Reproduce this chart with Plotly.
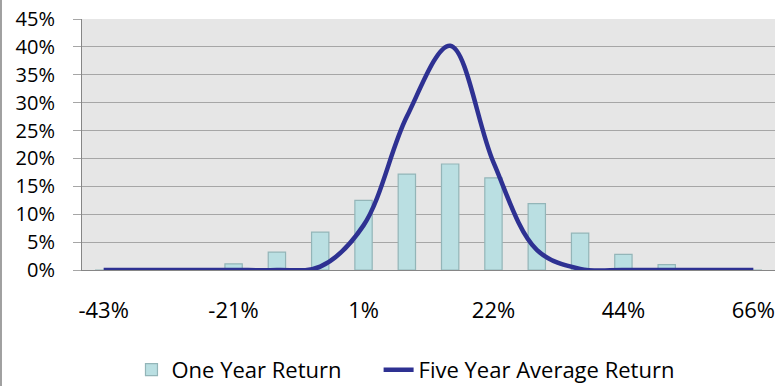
import plotly.graph_objects as go

# Return buckets (category axis) and the frequency of each bucket, in percent
return_buckets = ["-43%", "-36%", "-28%", "-21%", "-14%", "-7%", "1%", "8%",
                  "15%", "22%", "30%", "37%", "44%", "51%", "59%", "66%"]
one_year_return = [0, 0, 0, 1.1, 3.2, 6.8, 12.5, 17.2,
                   19.0, 16.5, 11.9, 6.6, 2.8, 0.95, 0, 0]
five_year_avg_return = [0, 0, 0, 0, 0, 0.6, 8.0, 27.5,
                        40.2, 19.3, 3.6, 0.2, 0, 0, 0, 0]
# Only every third bucket gets a label
labelled_buckets = return_buckets[::3]

FONT = "Open Sans, sans-serif"

fig = go.Figure()
fig.add_trace(go.Bar(
    x=return_buckets, y=one_year_return, name="One Year Return",
    marker=dict(color="#BADFE2", line=dict(color="#93B5B8", width=1.2)),
    legend="legend",
))
fig.add_trace(go.Scatter(
    x=return_buckets, y=five_year_avg_return, name="Five Year Average Return",
    mode="lines", line=dict(color="#2E3192", width=4.5, shape="spline", smoothing=1.0),
    legend="legend2",
))

legend_style = dict(orientation="h", xanchor="left", y=-0.398, yanchor="middle",
                    font=dict(family=FONT, size=22, color="black"),
                    bgcolor="rgba(0,0,0,0)")

fig.update_layout(
    width=777, height=386,
    margin=dict(l=82, r=2, t=19, b=116, autoexpand=False),
    paper_bgcolor="white", plot_bgcolor="#E6E6E6",
    font=dict(family=FONT, size=22, color="black"),
    bargap=0.6,
    showlegend=True,
    legend=dict(x=0.0714, **legend_style),
    legend2=dict(x=0.428, **legend_style),
    xaxis=dict(type="category", tickmode="array", tickvals=labelled_buckets,
               ticktext=labelled_buckets, showgrid=False, ticks="",
               showline=True, linecolor="#868686", linewidth=1,
               ticklabelstandoff=21, zeroline=False,
               tickfont=dict(size=22)),
    yaxis=dict(range=[0, 45], dtick=5, ticksuffix="%", showgrid=True,
               gridcolor="#A6A6A6", gridwidth=1.3, ticks="outside", ticklen=8,
               tickcolor="#A6A6A6", showline=True, linecolor="#868686", linewidth=1,
               ticklabelstandoff=14, zeroline=False,
               tickfont=dict(size=20)),
    shapes=[dict(type="line", xref="paper", yref="paper",
                 x0=-0.1169, x1=-0.1169, y0=-0.5, y1=1.08,
                 line=dict(color="#A0A0A0", width=2))],
)

fig.write_html("out.html")
